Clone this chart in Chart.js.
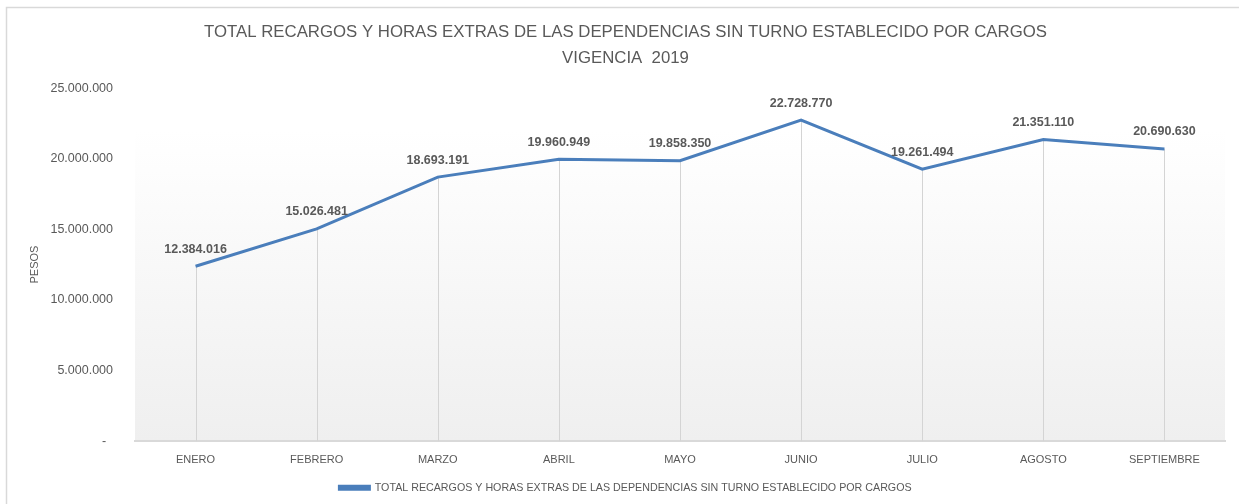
<!DOCTYPE html>
<html>
<head>
<meta charset="utf-8">
<script src="https://cdn.jsdelivr.net/npm/chart.js@4.4.1/dist/chart.umd.min.js"></script>
<style>
  html, body { margin: 0; padding: 0; background: #fff; }
  #wrap { width: 1239px; height: 504px; }
</style>
</head>
<body>
<div id="wrap"><canvas id="chart"></canvas></div>
<script>
const meses = ['ENERO', 'FEBRERO', 'MARZO', 'ABRIL', 'MAYO', 'JUNIO', 'JULIO', 'AGOSTO', 'SEPTIEMBRE']
const totales = [12384016, 15026481, 18693191, 19960949, 19858350, 22728770, 19261494, 21351110, 20690630]
const serieNombre = 'TOTAL RECARGOS Y HORAS EXTRAS DE LAS DEPENDENCIAS SIN TURNO ESTABLECIDO POR CARGOS'
const titulo = ['TOTAL RECARGOS Y HORAS EXTRAS DE LAS DEPENDENCIAS SIN TURNO ESTABLECIDO POR CARGOS', 'VIGENCIA  2019']

const gris = '#595959'
const azul = '#4a7ebb'

// 12384016 -> 12.384.016
const miles = v => Math.round(v).toString().replace(/\B(?=(\d{3})+(?!\d))/g, '.')

// marco, fondo degradado, lineas verticales y etiquetas (estilo excel)
const excelStuff = {
    id: 'excelStuff',
    beforeDraw(c) {
        const ctx = c.ctx, a = c.chartArea
        ctx.save()
        ctx.strokeStyle = '#d9d9d9'
        ctx.lineWidth = 1.5
        ctx.beginPath()
        ctx.moveTo(6.5, 504)
        ctx.lineTo(6.5, 7.5)
        ctx.lineTo(1239, 7.5)
        ctx.stroke()
        const g = ctx.createLinearGradient(0, a.top, 0, a.bottom)
        g.addColorStop(0, '#ffffff')
        g.addColorStop(0.12, '#ffffff')
        g.addColorStop(1, '#efefef')
        ctx.fillStyle = g
        ctx.fillRect(a.left, a.top, a.right - a.left, a.bottom - a.top)
        ctx.restore()
    },
    beforeDatasetsDraw(c) {
        const ctx = c.ctx, y = c.scales.y
        const pts = c.getDatasetMeta(0).data
        ctx.save()
        ctx.strokeStyle = '#d4d4d4'
        ctx.lineWidth = 1
        pts.forEach(p => {
            ctx.beginPath()
            ctx.moveTo(Math.round(p.x) + 0.5, p.y)
            ctx.lineTo(Math.round(p.x) + 0.5, y.getPixelForValue(0))
            ctx.stroke()
        })
        ctx.restore()
    },
    afterDatasetsDraw(c) {
        const ctx = c.ctx
        const pts = c.getDatasetMeta(0).data
        ctx.save()
        ctx.font = 'bold 12.5px "Liberation Sans"'
        ctx.fillStyle = gris
        ctx.textAlign = 'center'
        ctx.textBaseline = 'middle'
        pts.forEach((p, i) => {
            ctx.fillText(miles(totales[i]), p.x, p.y - 17)
        })
        ctx.restore()
    }
}

new Chart('chart', {
    type: 'line',
    data: {
        labels: meses,
        datasets: [{
            label: serieNombre,
            data: totales,
            borderColor: azul,
            backgroundColor: azul,
            borderWidth: 3,
            pointRadius: 0,
            tension: 0
        }]
    },
    options: {
        responsive: true,
        maintainAspectRatio: false,
        animation: false,
        layout: { padding: { left: 26, right: 14, top: 0, bottom: 1 } },
        plugins: {
            title: {
                display: true,
                text: titulo,
                color: gris,
                font: { family: '"Liberation Sans"', size: 16.8, weight: 'normal', lineHeight: 1.55 },
                padding: { top: 19, bottom: 17 }
            },
            legend: {
                position: 'bottom',
                labels: {
                    color: gris,
                    font: { family: '"Liberation Sans"', size: 10.7 },
                    boxWidth: 30,
                    boxHeight: 3,
                    padding: 4
                }
            },
            tooltip: { enabled: false }
        },
        scales: {
            x: {
                offset: true,
                grid: { display: false, drawTicks: false },
                border: { display: true, color: '#d9d9d9', width: 2 },
                ticks: {
                    color: gris,
                    font: { family: '"Liberation Sans"', size: 11 },
                    padding: 12
                }
            },
            y: {
                min: 0,
                max: 25000000,
                afterFit: s => { s.width = 109 },
                grid: { display: false, drawTicks: false },
                border: { display: false },
                title: {
                    display: true,
                    text: 'PESOS',
                    color: gris,
                    font: { family: '"Liberation Sans"', size: 11 },
                    padding: { top: 2, bottom: 6 }
                },
                ticks: {
                    stepSize: 5000000,
                    color: gris,
                    font: { family: '"Liberation Sans"', size: 12.5 },
                    padding: 22,
                    callback: v => v === 0 ? '-  ' : miles(v)
                }
            }
        }
    },
    plugins: [excelStuff]
})
</script>
</body>
</html>
